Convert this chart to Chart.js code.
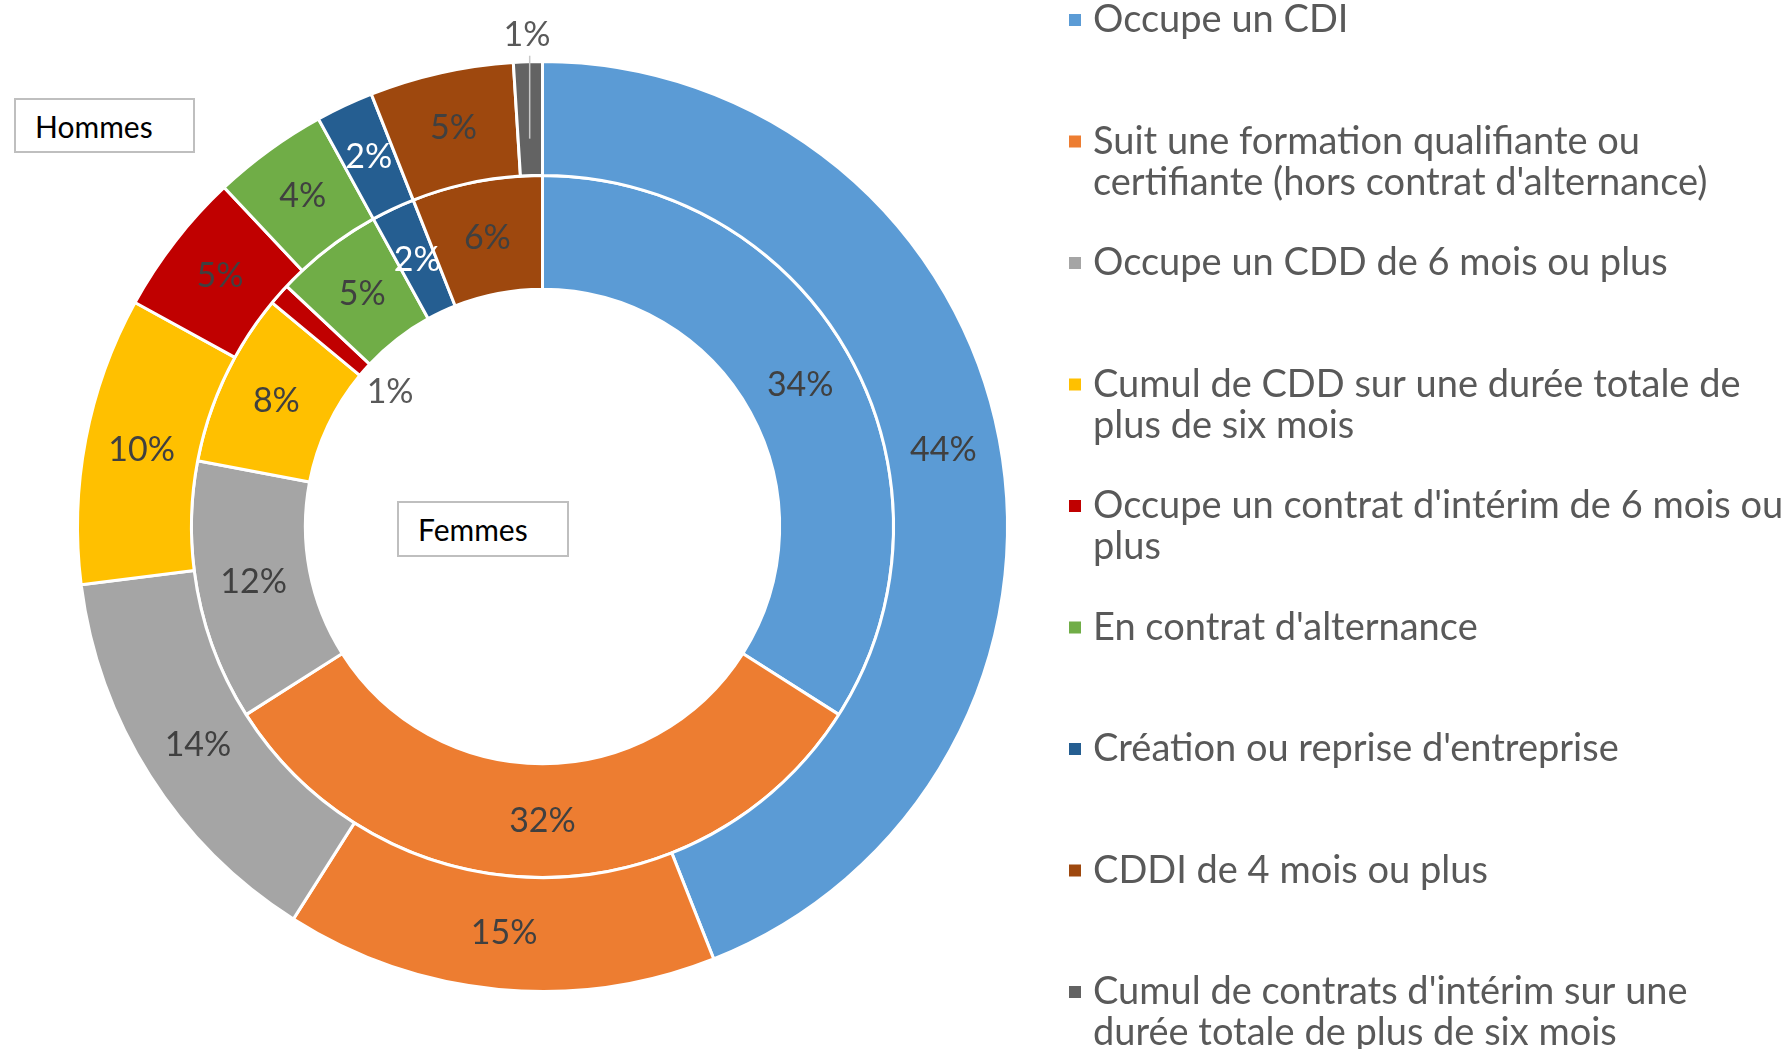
<!DOCTYPE html>
<html lang="fr">
<head>
    <meta charset="UTF-8">
    <title>Situation à la sortie - Hommes / Femmes</title>
    <script src="https://cdn.jsdelivr.net/npm/chart.js"></script>
    <style>
        body { margin: 0; background: #fff; }
        #wrap { position: relative; width: 1791px; height: 1049px; overflow: hidden; }
        .tag {
            position: absolute; box-sizing: border-box; border: 2px solid #bfbfbf; background: #fff;
            font-family: Lato, sans-serif; font-size: 30px; color: #000;
            display: flex; align-items: center; padding-left: 19px;
        }
    </style>
</head>
<body>
<div id="wrap">
    <canvas id="donut" width="1791" height="1049"></canvas>
    <div class="tag" style="left:14px;top:98px;width:181px;height:55px">Hommes</div>
    <div class="tag" style="left:397px;top:501px;width:172px;height:56px">Femmes</div>
</div>

<script>
    // categories (one entry per legend item, split on the original line breaks)
    const categories = [
        ['Occupe un CDI'],
        ['Suit une formation qualifiante ou', "certifiante (hors contrat d'alternance)"],
        ['Occupe un CDD de 6 mois ou plus'],
        ['Cumul de CDD sur une durée totale de', 'plus de six mois'],
        ["Occupe un contrat d'intérim de 6 mois ou", 'plus'],
        ["En contrat d'alternance"],
        ["Création ou reprise d'entreprise"],
        ['CDDI de 4 mois ou plus'],
        ["Cumul de contrats d'intérim sur une", 'durée totale de plus de six mois']
    ];
    // outer ring
    const hommes = [44, 15, 14, 10, 5, 4, 2, 5, 1];
    // inner ring
    const femmes = [34, 32, 12, 8, 1, 5, 2, 6, 0];

    const colors = ['#5B9BD5', '#ED7D31', '#A5A5A5', '#FFC000', '#C00000', '#70AD47', '#255E91', '#9E480E', '#636363'];
    const labelColors = ['#404040', '#404040', '#404040', '#404040', '#404040', '#404040', '#ffffff', '#404040', '#404040'];

    const FONT = 'Lato, "Open Sans", sans-serif';

    // percentage labels on each slice
    const sliceLabels = {
        id: 'sliceLabels',
        afterDatasetsDraw(chart) {
            const ctx = chart.ctx;
            ctx.save();
            ctx.font = '34px ' + FONT;
            ctx.textAlign = 'center';
            ctx.textBaseline = 'middle';
            chart.data.datasets.forEach((ds, di) => {
                const meta = chart.getDatasetMeta(di);
                meta.data.forEach((arc, i) => {
                    const v = ds.data[i];
                    if (!v) return;
                    const p = arc.getProps(['x', 'y', 'startAngle', 'endAngle', 'innerRadius', 'outerRadius'], true);
                    const a = (p.startAngle + p.endAngle) / 2;
                    let r = (p.innerRadius + p.outerRadius) / 2;
                    let color = labelColors[i];
                    if (v <= 1 && di === 0) {
                        // tiny outer slice: label above, with leader line
                        const lx = p.x + Math.cos(a) * r;
                        ctx.strokeStyle = '#c8c8c8';
                        ctx.lineWidth = 1.5;
                        ctx.beginPath();
                        ctx.moveTo(lx, p.y + Math.sin(a) * (p.outerRadius + 6));
                        ctx.lineTo(lx, p.y + Math.sin(a) * (r - 20));
                        ctx.stroke();
                        r = p.outerRadius + 27;
                        color = '#595959';
                    } else if (v <= 1) {
                        // tiny inner slice: label inside the hole
                        r = p.innerRadius - 34;
                        color = '#595959';
                    }
                    ctx.fillStyle = color;
                    ctx.fillText(v + '%', p.x + Math.cos(a) * r, p.y + Math.sin(a) * r);
                });
            });
            ctx.restore();
        }
    };

    // legend on the right, one item every 121.5px
    const sideLegend = {
        id: 'sideLegend',
        afterDraw(chart) {
            const ctx = chart.ctx;
            const x0 = 1069, top = 20, step = 121.5, lineH = 41;
            ctx.save();
            ctx.font = '38px ' + FONT;
            ctx.textBaseline = 'middle';
            categories.forEach((lines, i) => {
                const y = top + i * step;
                ctx.fillStyle = colors[i];
                ctx.fillRect(x0, y - 6, 12, 12);
                ctx.fillStyle = '#595959';
                lines.forEach((t, k) => ctx.fillText(t, x0 + 24, y + k * lineH));
            });
            ctx.restore();
        }
    };

    new Chart(document.getElementById('donut'), {
        type: 'doughnut',
        data: {
            labels: categories,
            datasets: [
                { label: 'Hommes', data: hommes, backgroundColor: colors, borderColor: '#ffffff', borderWidth: 3 },
                { label: 'Femmes', data: femmes, backgroundColor: colors, borderColor: '#ffffff', borderWidth: 3 }
            ]
        },
        options: {
            responsive: false,
            animation: false,
            cutout: '51%',
            layout: { padding: { left: 76, top: 60, right: 782, bottom: 56 } },
            plugins: {
                legend: { display: false },
                tooltip: { enabled: false }
            }
        },
        plugins: [sliceLabels, sideLegend]
    });
</script>
</body>
</html>
